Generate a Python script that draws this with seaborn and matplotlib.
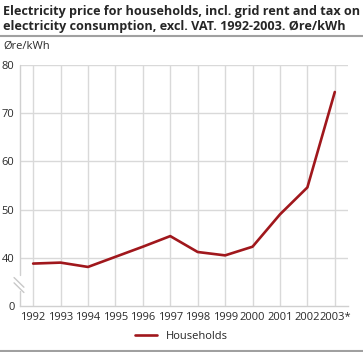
import pandas as pd
import matplotlib
matplotlib.use("Agg")
import matplotlib.pyplot as plt
import seaborn as sns
from matplotlib.lines import Line2D

years = ["1992", "1993", "1994", "1995", "1996", "1997", "1998", "1999", "2000", "2001", "2002", "2003*"]
households = [38.8, 39.0, 38.1, 40.2, 42.3, 44.5, 41.2, 40.5, 42.3, 49.0, 54.6, 74.4]

df = pd.DataFrame({"year": years, "price": households})
df["x"] = range(len(years))

sns.set_style("white")
plt.rcParams["font.family"] = ["Open Sans", "DejaVu Sans"]

fig = plt.figure(figsize=(3.63, 3.52), dpi=100)
ax = fig.add_axes([0.055, 0.1307, 0.9036, 0.6847])

sns.lineplot(data=df, x="x", y="price", color="#a0171c", linewidth=1.9, ax=ax, legend=False)

# broken y axis: 0 shown at the bottom, 40-80 above
ax.set_ylim(30, 80)
ax.set_yticks([30, 40, 50, 60, 70, 80])
ax.set_yticklabels(["0", "40", "50", "60", "70", "80"])
ax.set_xlim(-0.48, 11.48)
ax.set_xticks(df["x"])
ax.set_xticklabels(years)
ax.set_xlabel("")
ax.set_ylabel("")
ax.tick_params(axis="both", labelsize=8, colors="#2a2a2a", length=0, pad=4)

for y in [40, 50, 60, 70, 80]:
    ax.axhline(y, color="#d9d9d9", linewidth=1, zorder=0)
for x in df["x"]:
    ax.axvline(x, color="#d9d9d9", linewidth=1, zorder=0)

for s in ["top", "right", "left"]:
    ax.spines[s].set_visible(False)
ax.spines["bottom"].set_color("#d0d0d0")
ax.spines["bottom"].set_linewidth(1)

# left spine drawn in two parts with a break
ax.plot([0, 0], [0, 0.062], transform=ax.transAxes, color="#d0d0d0", linewidth=1, clip_on=False)
ax.plot([0, 0], [0.129, 1], transform=ax.transAxes, color="#d0d0d0", linewidth=1, clip_on=False)
for dy in [0, -0.022]:
    ax.plot([-0.018, 0.012], [0.118 + dy, 0.078 + dy], transform=ax.transAxes,
            color="#c8c8c8", linewidth=1, clip_on=False, zorder=6)

fig.text(0.008, 0.985, "Electricity price for households, incl. grid rent and tax on\nelectricity consumption, excl. VAT. 1992-2003. Øre/kWh",
         ha="left", va="top", fontsize=9.1, fontweight="bold", linespacing=1.2)
fig.add_artist(Line2D([0, 1], [0.898, 0.898], color="#a0a0a0", linewidth=1.5))
fig.text(0.008, 0.868, "Øre/kWh", ha="left", va="center", fontsize=8, color="#2a2a2a")

handle = Line2D([], [], color="#a0171c", linewidth=1.9)
fig.legend([handle], ["Households"], loc="center", bbox_to_anchor=(0.5, 0.045),
           frameon=False, fontsize=8, handlelength=2.0)
fig.add_artist(Line2D([0, 1], [0.004, 0.004], color="#a0a0a0", linewidth=1.5))

fig.savefig("out.png", dpi=100)
